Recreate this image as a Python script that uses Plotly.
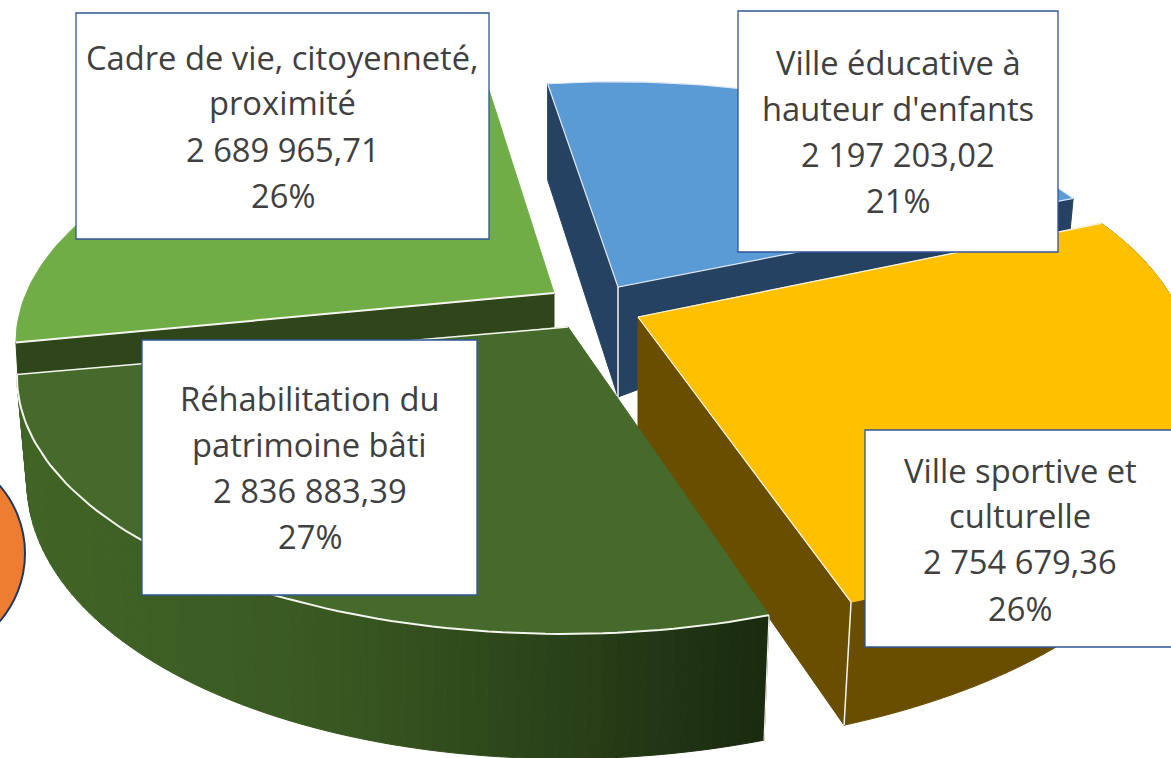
import numpy as np
import plotly.graph_objects as go

# ---- data ----
categories = ["Ville éducative à|hauteur d'enfants", "Ville sportive et|culturelle",
              "Réhabilitation du|patrimoine bâti", "Cadre de vie, citoyenneté,|proximité"]
values = [2197203.02, 2754679.36, 2836883.39, 2689965.71]

# ---- styling / view calibration (screen pixels) ----
W, H = 1171, 758
top_colors = ["#5b9bd5", "#ffc000", "#456a2b", "#70ad47"]
apexes = [(618, 287), (638, 317), (568, 327), (554, 293)]
# direction of each slice boundary from its apex, used to fit the tilted pie view
bound_dirs = np.array([(-64, -205), (459, -91), (208, 286), (-545, 49)], float)
# small per-slice view corrections at the start and end of each arc
corr_start = [(-5, 1), (4, -3), (-5, 1), (7, 0)]
corr_end = [(-4, 2), (7, -2), (-6, -2), (0, 0)]
boxes = [(738, 11, 1058, 252), (865, 430, 1180, 647), (142, 340, 477, 595), (76, 13, 489, 239)]
line_ys = [[62, 108, 154, 200], [470, 515, 561, 608], [398, 444, 490, 536], [57, 102, 149, 195]]
FONT = "Open Sans"
FONT_SIZE = 32.7

total = sum(values)
fr = np.array(values) / total
edges = np.concatenate([[0], np.cumsum(fr)]) * 2 * np.pi


def fit(theta0):
    A, b = [], []
    for th, (X, Y) in zip(edges[:4] + theta0, bound_dirs):
        u, v = np.sin(th), -np.cos(th)
        A.append([u, v, 0, 0, -u * X, -v * X]); b.append(X)
        A.append([0, 0, u, v, -u * Y, -v * Y]); b.append(Y)
    A, b = np.array(A), np.array(b)
    p, *_ = np.linalg.lstsq(A, b, rcond=None)
    return p, float(np.sum((A @ p - b) ** 2))


best = min(np.radians(np.arange(-90, 90, 0.5)), key=lambda t: fit(t)[1])
P = fit(best)[0]


def proj(th):
    u, v = np.sin(th + best), -np.cos(th + best)
    w = 1 + P[4] * u + P[5] * v
    return (P[0] * u + P[1] * v) / w, (P[2] * u + P[3] * v) / w


def arc(i, n=80):
    t = np.linspace(edges[i], edges[i + 1], n)
    X, Y = proj(t)
    s = np.linspace(0, 1, n)
    X = X + corr_start[i][0] * (1 - s) + corr_end[i][0] * s
    Y = Y + corr_start[i][1] * (1 - s) + corr_end[i][1] * s
    return apexes[i][0] + X, apexes[i][1] + Y


fig = go.Figure()


def poly(xs, ys, color, line=None, lw=1.0):
    fig.add_trace(go.Scatter(x=list(xs), y=list(ys), mode="lines", fill="toself", fillcolor=color,
                             line=dict(color=line or color, width=lw), hoverinfo="skip", showlegend=False))


def seg(xs, ys, lw=1.5):
    fig.add_trace(go.Scatter(x=list(xs), y=list(ys), mode="lines", line=dict(color="#f4f6ee", width=lw),
                             hoverinfo="skip", showlegend=False))


def lerp_color(x, stops):
    xs = [s[0] for s in stops]
    r = np.interp(x, xs, [s[1][0] for s in stops])
    g = np.interp(x, xs, [s[1][1] for s in stops])
    b = np.interp(x, xs, [s[1][2] for s in stops])
    return f"rgb({r:.0f},{g:.0f},{b:.0f})"


def outer_wall(ax, ay, s0, s1, stops, bump=0.0):
    n = len(ax) - 1

    def shift(t):
        return (s0[0] + (s1[0] - s0[0]) * t,
                s0[1] + (s1[1] - s0[1]) * t + bump * np.sin(np.pi * t))

    for k in range(n):
        dx0, dy0 = shift(k / n)
        dx1, dy1 = shift((k + 1) / n)
        poly([ax[k], ax[k + 1], ax[k + 1] + dx1, ax[k] + dx0, ax[k]],
             [ay[k], ay[k + 1], ay[k + 1] + dy1, ay[k] + dy0, ay[k]],
             lerp_color((ax[k] + ax[k + 1]) / 2, stops))


# blue slice
bx, by = arc(0)
a = apexes[0]
poly([a[0], bx[0], bx[0], a[0], a[0]], [a[1], by[0], by[0] + 96, a[1] + 110, a[1]], "#264263")
poly([a[0], bx[-1], bx[-1] - 3, a[0], a[0]], [a[1], by[-1], by[-1] + 31, a[1] + 110, a[1]], "#264263")
poly(list(bx) + [a[0], bx[0]], list(by) + [a[1], by[0]], top_colors[0], "#dfe9f4", 1.2)
seg([a[0], a[0]], [a[1], a[1] + 110])

# yellow slice
yx, yy = arc(1)
a = apexes[1]
poly([a[0], yx[-1], yx[-1] - 7, a[0], a[0]], [a[1], yy[-1], yy[-1] + 123, a[1] + 113, a[1]], "#6a4e00")
outer_wall(yx, yy, (0, 100), (-7, 123), [(600, (106, 78, 0)), (1171, (106, 78, 0))])
poly(list(yx) + [a[0], yx[0]], list(yy) + [a[1], yy[0]], top_colors[1], top_colors[1], 1.0)
seg([a[0], yx[0]], [a[1], yy[0]], 1.2)
seg([a[0], yx[-1]], [a[1], yy[-1]], 1.2)
seg([yx[-1], yx[-1] - 7], [yy[-1], yy[-1] + 123])

# light green slice
lx, ly = arc(3)
a = apexes[3]
poly([lx[0], a[0], a[0], lx[0] + 2, lx[0]], [ly[0], a[1], a[1] + 34, ly[0] + 34, ly[0]], "#2e461a")
poly(list(lx) + [a[0], lx[0]], list(ly) + [a[1], ly[0]], top_colors[3], top_colors[3], 1.0)
seg([lx[0], a[0]], [ly[0], a[1]], 2)

# dark green slice
gx, gy = arc(2)
a = apexes[2]
stops = [(17, (64, 100, 38)), (300, (58, 90, 34)), (520, (44, 70, 26)), (770, (26, 42, 16))]
outer_wall(gx, gy, (-5, 125), (10, 100), stops, bump=8)
poly(list(gx) + [a[0], gx[0]], list(gy) + [a[1], gy[0]], top_colors[2], top_colors[2], 1.0)
seg(gx, gy, 2)
seg([a[0], gx[-1]], [a[1], gy[-1]], 1.5)
seg([gx[0], gx[0] - 5], [gy[0], gy[0] + 125], 1.2)

# ---- layout ----
shapes = [dict(type="circle", xref="x", yref="y", x0=-182, x1=25, y0=450, y1=657,
               fillcolor="#ed7d31", line=dict(color="#1f3864", width=2), layer="above")]
annotations = []
for cat, val, box, ys in zip(categories, values, boxes, line_ys):
    shapes.append(dict(type="rect", xref="x", yref="y", x0=box[0], y0=box[1], x1=box[2], y1=box[3],
                       fillcolor="white", line=dict(color="#2f5597", width=1.3), layer="above"))
    txt = f"{val:,.2f}".replace(",", " ").replace(".", ",")
    lines = cat.split("|") + [txt, f"{val / total * 100:.0f}%"]
    cx = (box[0] + min(box[2], 1175)) / 2
    for line, y in zip(lines, ys):
        annotations.append(dict(x=cx, y=y, xref="x", yref="y", text=line, showarrow=False,
                                xanchor="center", yanchor="middle",
                                font=dict(family=FONT, size=FONT_SIZE, color="#404040")))

fig.update_layout(width=W, height=H, margin=dict(l=0, r=0, t=0, b=0),
                  paper_bgcolor="white", plot_bgcolor="white", showlegend=False,
                  xaxis=dict(range=[0, W], visible=False, fixedrange=True),
                  yaxis=dict(range=[H, 0], visible=False, fixedrange=True),
                  shapes=shapes, annotations=annotations)
fig.write_html("out.html", config=dict(displayModeBar=False),
               post_script="document.body.style.margin='0';document.body.style.overflow='hidden';")
